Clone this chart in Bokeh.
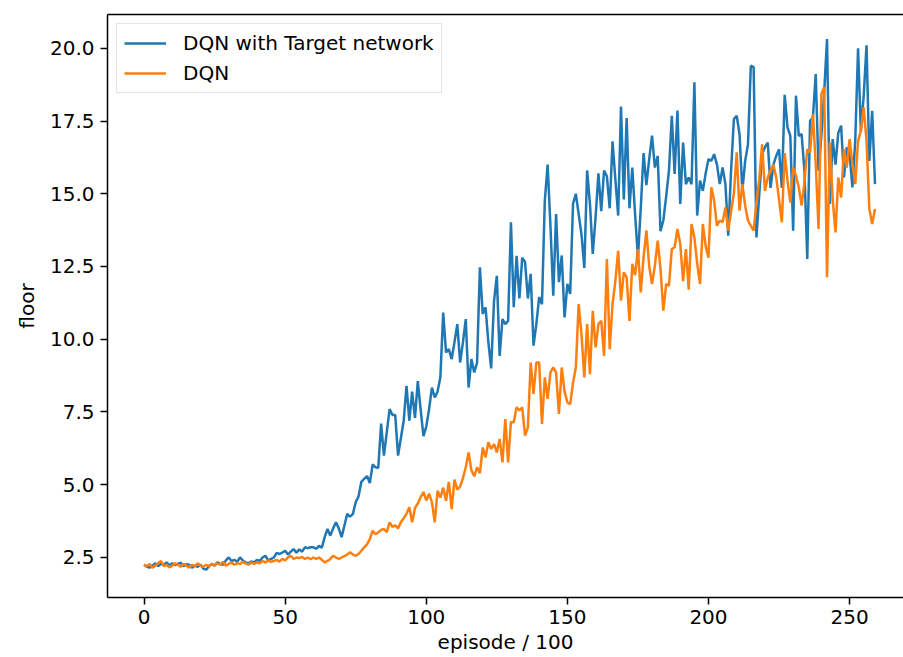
from bokeh.plotting import figure
from bokeh.models import Range1d, FixedTicker, LinearAxis, NumeralTickFormatter
from bokeh.embed import file_html
from bokeh.resources import INLINE

# Mean floor reached per block of 100 episodes
dqn_target = [
    2.25, 2.18, 2.15, 2.22, 2.30, 2.20, 2.28, 2.25, 2.33, 2.22,
    2.30, 2.24, 2.28, 2.32, 2.20, 2.27, 2.25, 2.15, 2.22, 2.18,
    2.25, 2.12, 2.08, 2.20, 2.28, 2.22, 2.33, 2.28, 2.25, 2.40,
    2.50, 2.38, 2.42, 2.35, 2.50, 2.40, 2.33, 2.30, 2.36, 2.33,
    2.42, 2.38, 2.50, 2.56, 2.40, 2.45, 2.50, 2.66, 2.62, 2.67,
    2.73, 2.60, 2.70, 2.79, 2.66, 2.78, 2.70, 2.85, 2.82, 2.85,
    2.85, 2.80, 2.90, 2.84, 3.20, 3.48, 3.25, 3.50, 3.71, 3.50,
    3.20, 3.60, 4.00, 3.90, 4.00, 4.40, 4.60, 5.10, 5.20, 5.30,
    5.06, 5.70, 5.60, 5.58, 7.10, 6.00, 6.80, 7.60, 7.40, 7.40,
    6.00, 6.60, 7.20, 8.40, 7.20, 8.20, 7.30, 8.56, 7.60, 6.67,
    7.00, 7.60, 8.34, 8.00, 8.20, 8.69, 10.92, 9.55, 9.66, 9.32,
    9.90, 10.52, 9.20, 9.90, 10.69, 8.34, 9.32, 8.86, 9.20, 12.47,
    10.87, 11.10, 9.90, 9.00, 11.30, 12.18, 9.43, 10.69, 10.52, 10.63,
    14.02, 11.10, 12.87, 11.40, 12.80, 12.66, 11.40, 12.25, 9.78, 10.52,
    11.45, 11.20, 14.76, 16.00, 13.90, 11.50, 14.30, 11.96, 12.88, 10.75,
    11.90, 11.56, 14.65, 15.00, 14.30, 13.60, 12.45, 15.80, 14.65, 12.93,
    14.20, 15.70, 14.40, 15.80, 15.60, 14.50, 16.80, 15.50, 14.25, 18.00,
    14.80, 17.60, 14.50, 15.90, 14.30, 12.80, 14.50, 16.40, 15.30, 16.20,
    17.00, 15.90, 16.30, 13.71, 14.08, 14.90, 15.80, 17.68, 15.68, 17.86,
    14.65, 16.76, 15.33, 15.56, 15.33, 18.83, 14.25, 15.45, 15.10, 15.70,
    16.19, 16.13, 16.36, 16.00, 15.33, 15.90, 15.33, 13.56, 15.80, 17.57,
    17.68, 17.05, 15.10, 16.13, 16.70, 19.40, 19.35, 13.50, 15.00, 16.36,
    16.60, 16.76, 15.20, 16.00, 16.30, 16.53, 15.20, 18.40, 17.28, 16.99,
    13.73, 18.37, 16.99, 17.05, 15.79, 12.76, 17.51, 17.62, 19.11, 15.79,
    17.00, 18.50, 20.32, 14.65, 16.88, 16.00, 17.10, 17.34, 15.56, 16.59,
    16.36, 15.22, 16.82, 20.00, 17.16, 18.37, 20.10, 16.13, 17.85, 15.33,
]

dqn = [
    2.25, 2.20, 2.28, 2.15, 2.22, 2.30, 2.38, 2.20, 2.25, 2.16,
    2.22, 2.30, 2.25, 2.18, 2.28, 2.22, 2.15, 2.25, 2.20, 2.30,
    2.22, 2.18, 2.25, 2.20, 2.28, 2.22, 2.30, 2.25, 2.35, 2.22,
    2.28, 2.33, 2.25, 2.30, 2.28, 2.35, 2.30, 2.25, 2.33, 2.28,
    2.33, 2.30, 2.38, 2.33, 2.40, 2.35, 2.38, 2.42, 2.36, 2.45,
    2.40, 2.50, 2.56, 2.45, 2.50, 2.48, 2.52, 2.45, 2.50, 2.44,
    2.50, 2.45, 2.50, 2.42, 2.33, 2.38, 2.45, 2.56, 2.50, 2.45,
    2.50, 2.55, 2.60, 2.68, 2.60, 2.56, 2.62, 2.73, 2.85, 2.95,
    3.13, 3.42, 3.30, 3.37, 3.45, 3.48, 3.37, 3.71, 3.55, 3.60,
    3.50, 3.71, 3.85, 4.00, 4.23, 3.71, 4.20, 4.35, 4.57, 4.75,
    4.46, 4.69, 4.40, 3.71, 4.79, 4.56, 4.90, 4.45, 5.10, 4.16,
    5.18, 4.83, 4.94, 5.23, 5.60, 6.11, 5.50, 5.29, 5.60, 5.40,
    6.28, 5.94, 6.46, 6.23, 6.40, 6.11, 6.57, 5.77, 7.26, 5.77,
    7.15, 7.15, 7.66, 7.55, 7.66, 6.69, 6.97, 9.20, 8.12, 9.20,
    9.20, 7.09, 8.69, 7.95, 8.86, 9.03, 8.86, 7.43, 9.03, 8.20,
    7.83, 7.77, 8.50, 9.03, 11.21, 10.18, 8.69, 10.52, 8.80, 10.98,
    9.72, 10.52, 10.63, 9.43, 12.76, 9.66, 11.21, 12.00, 13.04, 11.33,
    12.30, 12.13, 10.63, 12.59, 12.20, 13.10, 11.61, 12.82, 13.74, 12.50,
    11.90, 12.53, 13.39, 12.42, 10.98, 11.90, 11.84, 13.10, 13.16, 13.79,
    13.27, 12.00, 13.10, 11.70, 13.96, 13.50, 12.60, 11.90, 13.96, 13.20,
    12.80, 15.22, 14.76, 13.90, 14.08, 14.02, 14.53, 13.73, 14.40, 15.00,
    16.42, 14.42, 15.33, 14.59, 14.08, 13.90, 13.73, 14.70, 15.50, 16.70,
    15.10, 15.56, 15.80, 16.00, 15.56, 14.80, 14.02, 16.40, 15.45, 14.70,
    15.90, 15.62, 15.22, 14.59, 15.40, 16.53, 16.42, 17.74, 16.02, 13.79,
    18.43, 18.66, 12.13, 16.76, 14.82, 13.67, 15.56, 14.87, 16.53, 15.90,
    16.88, 16.02, 15.33, 16.82, 17.16, 17.97, 16.82, 14.48, 13.96, 14.48,
]

episodes = list(range(len(dqn_target)))

x_ticks = [0, 50, 100, 150, 200, 250]
y_ticks = [2.5, 5.0, 7.5, 10.0, 12.5, 15.0, 17.5, 20.0]

FONT = "DejaVu Sans"
FS = "20px"
BLUE = "#1f77b4"
ORANGE = "#ff7f0e"

p = figure(
    width=903, height=657,
    output_backend="svg", toolbar_location=None,
    x_range=Range1d(-12.95, 269.1), y_range=Range1d(1.125, 21.16),
    min_border_left=107, min_border_right=0,
    min_border_top=14, min_border_bottom=60,
    background_fill_color="white", border_fill_color="white",
)
p.outline_line_color = None
p.xgrid.visible = False
p.ygrid.visible = False

p.line(episodes, dqn_target, color=BLUE, line_width=2.5,
       legend_label="DQN with Target network")
p.line(episodes, dqn, color=ORANGE, line_width=2.5, legend_label="DQN")

for ax in (p.xaxis[0], p.yaxis[0]):
    ax.axis_line_color = "black"
    ax.axis_line_width = 1.5
    ax.major_tick_line_color = "black"
    ax.major_tick_line_width = 1.5
    ax.major_tick_out = 7
    ax.major_tick_in = 0
    ax.minor_tick_out = 0
    ax.minor_tick_in = 0
    ax.major_label_text_font = FONT
    ax.major_label_text_font_size = FS
    ax.major_label_text_color = "black"
    ax.axis_label_text_font = FONT
    ax.axis_label_text_font_size = FS
    ax.axis_label_text_font_style = "normal"
    ax.axis_label_text_color = "black"

p.xaxis.ticker = FixedTicker(ticks=x_ticks)
p.yaxis.ticker = FixedTicker(ticks=y_ticks)
p.yaxis.formatter = NumeralTickFormatter(format="0.0")
p.xaxis.axis_label = "episode / 100"
p.yaxis.axis_label = "floor"
p.xaxis.major_label_standoff = 5
p.xaxis.axis_label_standoff = 3
p.yaxis.major_label_standoff = 6
p.yaxis.axis_label_standoff = 8

# top frame edge
top = LinearAxis(
    axis_line_color="black", axis_line_width=1.5,
    major_tick_out=0, major_tick_in=0, minor_tick_out=0, minor_tick_in=0,
    major_label_text_font_size="0px", major_label_standoff=0,
)
top.ticker = FixedTicker(ticks=[])
p.add_layout(top, "above")

lg = p.legend[0]
lg.location = "top_left"
lg.margin = 9
lg.padding = 7
lg.spacing = 6
lg.glyph_width = 42
lg.glyph_height = 22
lg.label_standoff = 17
lg.label_text_font = FONT
lg.label_text_font_size = FS
lg.label_text_color = "black"
lg.border_line_color = "#cccccc"
lg.border_line_width = 1.5
lg.background_fill_alpha = 0.8

open("out.html", "w").write(file_html(p, INLINE))
